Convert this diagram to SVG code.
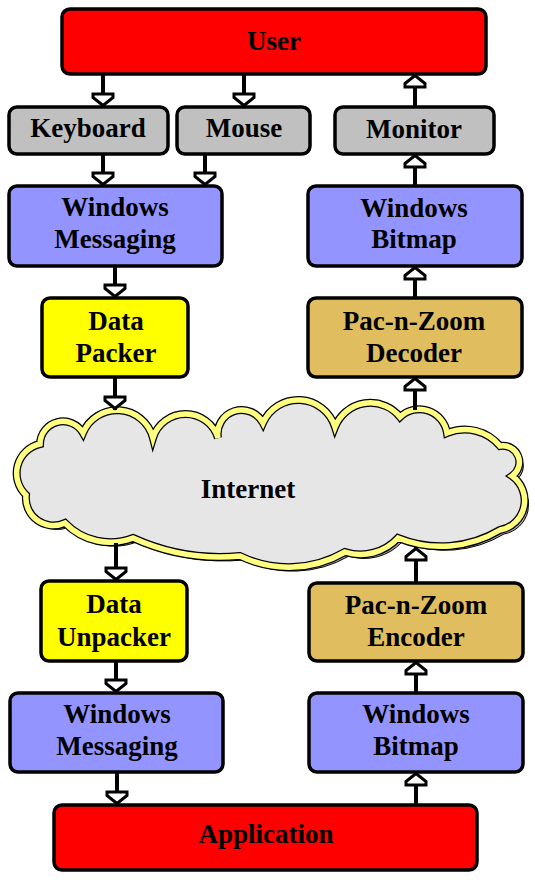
<svg xmlns="http://www.w3.org/2000/svg" xmlns:xlink="http://www.w3.org/1999/xlink" width="535" height="880" viewBox="0 0 535 880">
<style>
.box{stroke:#000;stroke-width:3.5}
.red{fill:#FF0000}
.gray{fill:#C0C0C0}
.blue{fill:#9494FF}
.yel{fill:#FFFF00}
.tan{fill:#E0BE60}
.t{font-family:"Liberation Serif","Times New Roman",serif;font-weight:bold;font-size:27px;fill:#000;text-anchor:middle}
.c{stroke:#000;stroke-width:4;fill:none;marker-end:url(#ah)}
</style>
<defs>
<marker id="ah" markerUnits="userSpaceOnUse" orient="auto" refX="1.5" refY="0" markerWidth="30" markerHeight="30" viewBox="-15 -15 30 30" overflow="visible">
<path d="M0,0 L-8,-10 L-11.5,-10 L-11.5,10 L-8,10 Z" fill="#fff" stroke="#000" stroke-width="3" stroke-linejoin="miter"/>
</marker>
<path id="cloudPath" d="M26,495 A30,30 0 0 1 40,444 A23,23 0 0 1 83,433 A37,37 0 0 1 153,438 A34,34 0 0 1 218,438 A24,24 0 0 1 263,423 A38.5,38.5 0 0 1 335,427 A38,38 0 0 1 400,417 A28,28 0 0 1 447,433 A46,46 0 0 1 500,446 A16.5,16.5 0 0 1 512,476 A30,30 0 0 1 500,530 A115,115 0 0 1 398,538 A51,51 0 0 1 345,552 A112,112 0 0 1 240,556 A210,210 0 0 1 133,538 A63,63 0 0 1 65,523 A27.6,27.6 0 0 1 26,495 Z"/>
</defs>

<g id="internet">
<use xlink:href="#cloudPath" transform="translate(4,4)" fill="#A8A8A8" stroke="#000" stroke-width="1"/>
<use xlink:href="#cloudPath" fill="#E6E6E6" stroke="#000" stroke-width="8"/>
<use xlink:href="#cloudPath" fill="none" stroke="#FFFF80" stroke-width="5.5"/>
<text class="t" x="248" y="498">Internet</text>
</g>

<g id="user">
<rect class="box red" x="62" y="9" width="424" height="65" rx="8"/>
<text class="t" x="274" y="50">User</text>
</g>
<g id="keyboard">
<rect class="box gray" x="9" y="107" width="159" height="47" rx="8"/>
<text class="t" x="88" y="137">Keyboard</text>
</g>
<g id="mouse">
<rect class="box gray" x="177" y="107" width="133" height="47" rx="8"/>
<text class="t" x="244" y="137">Mouse</text>
</g>
<g id="monitor">
<rect class="box gray" x="335" y="107" width="159" height="47" rx="8"/>
<text class="t" x="414" y="138">Monitor</text>
</g>
<g id="winmsg1">
<rect class="box blue" x="9" y="186" width="213" height="80" rx="8"/>
<text class="t" x="115" y="216">Windows</text>
<text class="t" x="115" y="248">Messaging</text>
</g>
<g id="winbmp1">
<rect class="box blue" x="308" y="186" width="214" height="80" rx="8"/>
<text class="t" x="414" y="217">Windows</text>
<text class="t" x="414" y="248">Bitmap</text>
</g>
<g id="datapacker">
<rect class="box yel" x="42" y="298" width="146" height="79" rx="8"/>
<text class="t" x="116" y="330">Data</text>
<text class="t" x="116" y="362">Packer</text>
</g>
<g id="decoder">
<rect class="box tan" x="308" y="298" width="214" height="79" rx="8"/>
<text class="t" x="414" y="330">Pac-n-Zoom</text>
<text class="t" x="414" y="362">Decoder</text>
</g>
<g id="dataunpacker">
<rect class="box yel" x="41" y="581" width="146" height="80" rx="8"/>
<text class="t" x="114" y="613">Data</text>
<text class="t" x="114" y="646">Unpacker</text>
</g>
<g id="encoder">
<rect class="box tan" x="309" y="583" width="214" height="78" rx="8"/>
<text class="t" x="416" y="614">Pac-n-Zoom</text>
<text class="t" x="416" y="646">Encoder</text>
</g>
<g id="winmsg2">
<rect class="box blue" x="10" y="693" width="213" height="79" rx="8"/>
<text class="t" x="117" y="723">Windows</text>
<text class="t" x="117" y="755">Messaging</text>
</g>
<g id="winbmp2">
<rect class="box blue" x="309" y="693" width="214" height="79" rx="8"/>
<text class="t" x="416" y="723">Windows</text>
<text class="t" x="416" y="755">Bitmap</text>
</g>
<g id="application">
<rect class="box red" x="54" y="805" width="423" height="65" rx="8"/>
<text class="t" x="266" y="843">Application</text>
</g>

<g id="connectors">
<line class="c" x1="103" y1="74" x2="103" y2="107"/>
<line class="c" x1="244" y1="74" x2="244" y2="107"/>
<line class="c" x1="103" y1="154" x2="103" y2="186"/>
<line class="c" x1="205" y1="154" x2="205" y2="186"/>
<line class="c" x1="115" y1="266" x2="115" y2="298"/>
<line class="c" x1="115" y1="377" x2="115" y2="410"/>
<line class="c" x1="116" y1="543" x2="116" y2="581"/>
<line class="c" x1="116" y1="661" x2="116" y2="693"/>
<line class="c" x1="117" y1="772" x2="117" y2="805"/>
<line class="c" x1="416" y1="805" x2="416" y2="772"/>
<line class="c" x1="416" y1="693" x2="416" y2="661"/>
<line class="c" x1="416" y1="583" x2="416" y2="547"/>
<line class="c" x1="415" y1="410" x2="415" y2="377"/>
<line class="c" x1="415" y1="298" x2="415" y2="266"/>
<line class="c" x1="415" y1="186" x2="415" y2="154"/>
<line class="c" x1="415" y1="107" x2="415" y2="74"/>
</g>
</svg>
